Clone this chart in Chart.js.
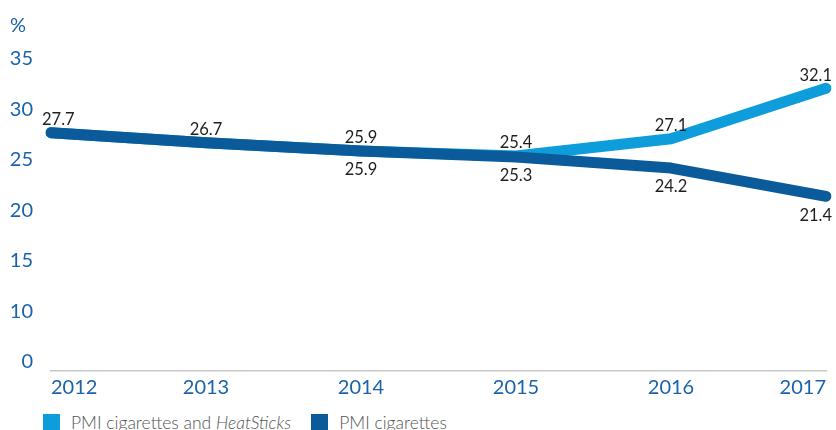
<!DOCTYPE html>
<html>
<head>
<meta charset="utf-8">
<script src="https://cdn.jsdelivr.net/npm/chart.js@4.4.1/dist/chart.umd.min.js"></script>
<style>
body{margin:0;background:#fff;font-family:Lato,sans-serif}
#wrap{position:relative;width:836px;height:430px;overflow:hidden}
#legend{display:flex;align-items:center;margin-left:43px;margin-top:7px;font-size:17.5px;font-weight:300;color:#555}
#legend .item{display:flex;align-items:center;margin-right:20px}
#legend .box{width:17px;height:17px;margin-right:11px}
</style>
</head>
<body>
<div id="wrap">
<canvas id="chart" width="836" height="405"></canvas>
<div id="legend"></div>
</div>
<script>
const years=["2012","2013","2014","2015","2016","2017"]
const withHeatSticks=[27.7,26.7,25.9,25.4,27.1,32.1]
const cigarettesOnly=[27.7,26.7,25.9,25.3,24.2,21.4]
const seriesNames=["PMI cigarettes and HeatSticks","PMI cigarettes"]
// axis is broken: the bottom tick is shown as 0
const yTickValues=[5,10,15,20,25,30,35]
const yTickLabels=["0","10","15","20","25","30","35"]

const lightBlue="#0d9dda"
const darkBlue="#0b5b9b"
const axisBlue="#1a62ab"

// value labels next to each point
const valueLabels={
id:"valueLabels",
afterDatasetsDraw(chart){
let ctx=chart.ctx
ctx.save()
ctx.font="16.5px Lato"
ctx.fillStyle="#1e1e1e"
ctx.textBaseline="middle"
chart.data.datasets.forEach((ds,di)=>{
let meta=chart.getDatasetMeta(di)
meta.data.forEach((pt,i)=>{
if(ds.skipLabels.includes(i)) return
let x=pt.x
let y=ds.labelSide==="above"?pt.y-13:pt.y+19
ctx.textAlign="center"
if(i===0){ctx.textAlign="left";x-=9}
if(i===ds.data.length-1){ctx.textAlign="right";x+=6}
ctx.fillText(ds.data[i].toFixed(1),x,y)
})
})
ctx.restore()
}
}

// unit marker above the y axis
const unitMark={
id:"unitMark",
afterDraw(chart){
let ctx=chart.ctx
ctx.save()
ctx.font="20px Lato"
ctx.fillStyle=axisBlue
ctx.textAlign="left"
ctx.textBaseline="middle"
ctx.fillText("%",10,26)
ctx.restore()
}
}

new Chart(document.getElementById("chart"),{
type:"line",
data:{
labels:years,
datasets:[
{label:seriesNames[0],data:withHeatSticks,borderColor:lightBlue,backgroundColor:lightBlue,order:2,labelSide:"above",skipLabels:[]},
{label:seriesNames[1],data:cigarettesOnly,borderColor:darkBlue,backgroundColor:darkBlue,order:1,labelSide:"below",skipLabels:[0,1]}
]
},
options:{
responsive:false,
animation:false,
layout:{padding:{left:10,right:10,top:59,bottom:0}},
elements:{
line:{borderWidth:11,tension:0,borderCapStyle:"round",borderJoinStyle:"round"},
point:{radius:0,hoverRadius:0}
},
plugins:{legend:{display:false},tooltip:{enabled:false}},
scales:{
x:{
offset:false,
grid:{display:false,drawTicks:false},
border:{color:"#c8c8c8",width:1.5},
ticks:{color:axisBlue,font:{size:20,family:"Lato"},padding:5,align:"inner",maxRotation:0},
// labels are aligned inward, so no extra side room is needed
afterFit(scale){scale.paddingLeft=0;scale.paddingRight=0}
},
y:{
min:4.1,
max:35,
afterBuildTicks(scale){scale.ticks=yTickValues.map(v=>({value:v}))},
afterFit(scale){scale.width=41},
grid:{display:false,drawTicks:false},
border:{display:false},
ticks:{
color:axisBlue,
font:{size:20,family:"Lato"},
padding:18,
callback:(v)=>yTickLabels[yTickValues.indexOf(v)]
}
}
}
},
plugins:[valueLabels,unitMark]
})

// legend in html so the brand name can be set in italics
let legend=document.getElementById("legend")
;[lightBlue,darkBlue].forEach((c,i)=>{
let item=document.createElement("div")
item.className="item"
item.innerHTML=`<span class="box" style="background:${c}"></span><span>${seriesNames[i].replace("HeatSticks","<i>HeatSticks</i>")}</span>`
legend.appendChild(item)
})
</script>
</body>
</html>
